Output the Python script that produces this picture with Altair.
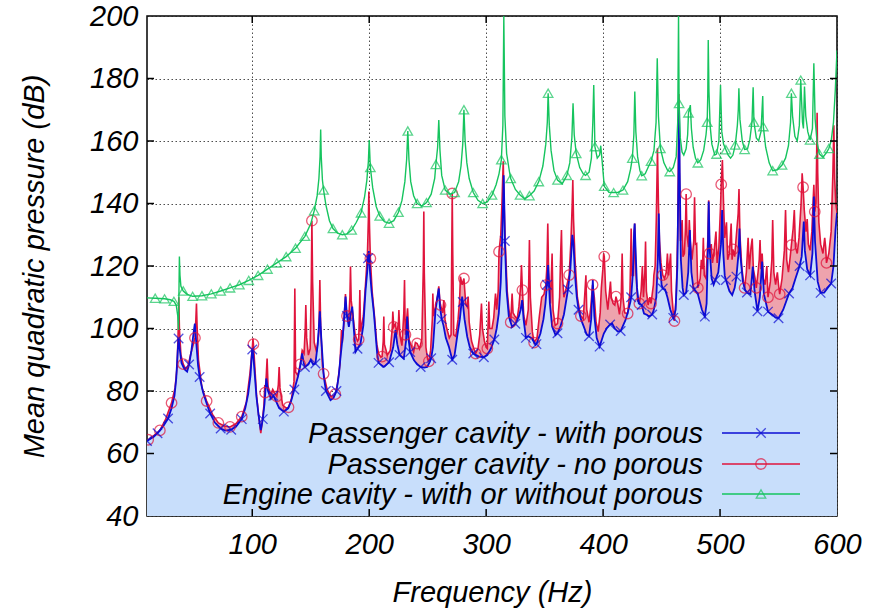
import altair as alt
import pandas as pd

# ---------------------------------------------------------------------------
# Mean quadratic pressure (dB) versus frequency (Hz), three responses.
# Each list holds (frequency, level) vertices of one response curve.
# ---------------------------------------------------------------------------

ENGINE = [
    (10, 109.8), (17, 109.7), (25, 109.5), (30, 109.2), (33, 108.7), (35, 107.5),
    (36.3, 104), (36.9, 99.5), (37.4, 114), (37.7, 123), (38.2, 117), (39, 113.5),
    (41, 112), (44, 111), (49, 110.3), (57, 110.5), (65, 111.1), (73, 112), (81, 113),
    (89, 114), (97, 115.4), (105, 117), (113, 119), (121, 121), (129, 123), (137, 125.7),
    (145, 129.5), (150, 133.5), (153, 137.7), (155.5, 142.5), (157, 148), (158, 155),
    (158.5, 163.7), (159, 155), (160, 147.5), (161, 144.3), (163, 139.5), (166, 134.5),
    (169, 132), (173, 130.5), (177, 130), (181, 130.3), (185, 131.5), (189, 134),
    (193, 137), (196, 142), (198, 147.5), (199.3, 153.5), (200, 160.3), (200.7, 154),
    (201, 151.5), (203, 145), (206, 139), (209, 136), (213, 134.2), (217, 133.7),
    (221, 134.5), (225, 137.2), (228, 141), (230.5, 147), (232, 154), (233, 163.2),
    (234, 154), (235.5, 147), (238, 142.5), (241, 140), (245, 139.2), (249, 140.3),
    (253, 143), (256, 148), (257, 152.5), (258.5, 158), (259.5, 166.7), (260.5, 157),
    (262, 149), (265, 144.3), (269, 143), (273, 143.5), (276.5, 147), (278.5, 152),
    (280, 159), (281, 170), (282, 160), (283.5, 153), (285.5, 148), (289, 143.5),
    (293, 141), (297, 140), (301, 140.5), (305, 142.7), (308.5, 146), (311, 149.5),
    (313, 154), (314.3, 165), (315.1, 200), (316, 168), (317.5, 156), (320, 150),
    (321, 148), (325, 144.5), (329, 142.7), (333, 141.5), (337, 142.5), (341, 144),
    (345, 147), (348.5, 152), (351, 159), (352.3, 166), (353, 175.3), (354, 165),
    (355.5, 157), (358, 150.5), (361, 147.5), (365, 146.3), (369, 149), (371.5, 153),
    (373.3, 161), (374.3, 172.1), (375.3, 162), (377, 156), (380, 151.5), (383, 149.5),
    (385, 149), (388, 150), (390, 154.5), (391.2, 166), (392, 177.9), (393, 158.2),
    (395, 154.5), (397, 155.5), (398, 158.5), (399.3, 153), (401, 145.5), (405, 143.6),
    (409, 143.5), (413, 143.6), (417, 144.3), (421, 147), (423.5, 151), (425, 154.5),
    (426.3, 162), (427.1, 175.8), (428, 163), (429.5, 155), (431.5, 150.5), (433, 148.9),
    (436, 149.5), (439, 152), (441, 153.5), (443.5, 157), (445.3, 166), (446.3, 186.5),
    (447.3, 168), (449, 157.6), (452, 153), (455, 150.7), (457, 150.2), (460, 151.5),
    (462.5, 155), (463.8, 166), (464.5, 200), (465, 172), (466, 161), (467.5, 156.5),
    (469, 155.5), (471, 157.5), (472.3, 162), (473, 169), (474.6, 171.5), (475.5, 164),
    (477, 158), (479, 154.5), (481, 153), (483.5, 154), (486, 157), (488, 162),
    (489, 166), (489.5, 175), (489.9, 192.3), (490.5, 176), (491.5, 165), (493, 159),
    (495.5, 155.5), (497, 155.8), (499, 160), (500.4, 177.9), (501.5, 163), (503, 159),
    (505, 157.2), (507, 155.5), (509, 154.5), (511, 155.5), (513, 158.7), (514.8, 165),
    (515.6, 170), (516.1, 176.9), (517, 167), (519, 160), (521, 157.3), (523.5, 157.5),
    (525.5, 160.5), (527.3, 166), (528.3, 177.2), (529, 166), (531, 161), (533, 160),
    (535, 163), (536.5, 174.4), (537, 164.6), (539, 158), (542, 153), (545, 150.5),
    (549, 150.8), (553, 152.3), (556, 154.5), (558.5, 158.5), (560.3, 166), (561, 175.3),
    (562, 168), (564, 161.5), (566, 160), (567.8, 165), (569, 179.5), (570.5, 166),
    (571.3, 164), (572.2, 177.4), (573.3, 168), (575, 163), (577, 160.3), (579, 164),
    (580.2, 184.9), (581.3, 167), (583, 159.5), (585, 155.8), (588, 154.8), (591, 156.3),
    (593, 157.6), (595, 160), (597, 166), (598.5, 176), (600, 189),
]

WITH_POROUS = [
    (10, 64.0), (15, 65.2), (19, 66.5), (24, 68.8), (28, 71.2), (31, 74.5), (33.5, 78.5),
    (35, 84), (36.3, 93), (37, 96.8), (37.8, 94), (39.5, 89), (42, 87), (44.3, 86.2),
    (46, 88.5), (48, 93), (49.8, 98.5), (50.9, 101.6), (52, 96), (53.7, 88), (55, 84.5),
    (58, 79.5), (61, 76), (64, 72.8), (68, 69.9), (73, 68.0), (77, 67.3), (82, 67.6),
    (86, 68.5), (91, 71), (94, 74.5), (96.5, 79), (98.5, 85), (99.5, 91), (100, 93.3),
    (100.7, 92), (101.8, 87), (103.6, 78.1), (105.5, 72), (107.3, 67.5), (108.3, 69.5),
    (109, 71), (110.5, 76), (112, 84), (113.5, 80), (116, 77.5), (118, 78.5), (120, 77),
    (123, 74.5), (127, 73.4), (130.7, 74.4), (133, 76.5), (136, 80.5), (139, 84.5),
    (141, 88), (142.7, 92), (144, 89), (145, 87.7), (148, 88.5), (150, 90), (152, 88.5),
    (154, 88.8), (156, 95), (157.8, 105.5), (159, 97), (161.2, 84.5), (163, 80),
    (166.9, 77.1), (169.5, 77.8), (172, 80), (174, 85), (175.5, 91), (177.5, 98),
    (179.8, 110.2), (181, 104), (182.6, 100.5), (184.2, 104.5), (185.5, 107), (186.8, 100),
    (188.3, 92.5), (190, 93.5), (192.6, 95.2), (195, 101), (196.9, 112.3), (198.5, 119),
    (199, 122.5), (199.7, 124.8), (200.7, 118), (202, 112), (204, 105), (206.8, 92),
    (208, 89), (212.5, 87.7), (217, 89.2), (220.5, 94), (222.5, 99.5), (224, 95),
    (226, 91.5), (229.6, 90.4), (231.5, 96), (232.5, 103.8), (233.5, 97), (235, 92.5),
    (238.2, 89.9), (241, 88.5), (244, 87.7), (247, 87.5), (249.6, 87.7), (252, 89.5),
    (253, 90.5), (254.5, 94), (256.7, 105.9), (258.3, 110), (259.5, 112.8), (260.5, 107),
    (262, 103), (263.5, 101), (265.5, 97), (268.1, 94.2), (271, 90), (273, 91.5),
    (275.2, 97.4), (277.5, 103), (279.5, 110.2), (280, 108.5), (281.5, 103), (283.8, 97.4),
    (286, 94), (289, 92), (293.8, 91), (298, 90.8), (301, 91.5), (304, 93.5), (307, 96.5),
    (309, 100), (310.8, 104.8), (312.5, 115), (313.7, 129.4), (314.5, 140), (315, 149),
    (315.6, 138), (316, 128), (317.5, 112), (319.4, 103.8), (322.2, 100.5), (325, 101.5),
    (327.9, 103.8), (329.5, 106), (330.8, 109.1), (332, 103), (334, 97), (336, 97.5),
    (339.3, 96.8), (342.2, 94.7), (343, 95), (346.4, 98.4), (349, 103), (350.7, 108),
    (352, 114), (353, 120.3), (354.5, 108), (356.4, 100.6), (359.3, 97.9), (361, 98.5),
    (363.5, 100.6), (366.5, 104.5), (369.2, 110.7), (370, 112.5), (372, 119), (373.7, 130),
    (374.7, 127), (376, 117), (377.5, 110), (379, 106), (381, 103), (383.5, 100.6),
    (386, 98), (388, 97.5), (389.8, 103), (391.2, 115.5), (392.5, 104), (394.5, 97),
    (397, 94.2), (400.6, 98.4), (403, 100), (406, 101.3), (407.7, 101.6), (410, 100),
    (412.5, 99), (415, 99.2), (419.1, 102.7), (421, 105), (423.4, 108.6), (424, 110),
    (425.5, 118), (426.5, 131), (427, 133.6), (427.7, 126), (429, 113), (430.5, 108),
    (433, 107.5), (435, 104.8), (437.7, 104.3), (439.1, 103.8), (442, 104.5),
    (443.3, 105.9), (445.5, 110), (446.8, 122), (447.6, 136.8), (448.5, 122), (450, 114),
    (451, 112.8), (453, 112.5), (455, 110), (457.5, 106), (460, 103.4), (462, 106),
    (463.5, 120), (464.5, 150), (465, 170), (465.5, 150), (466.5, 122), (468, 113),
    (469, 110.7), (471, 111.5), (472.8, 118), (474.2, 131.5), (475.5, 118), (477, 113.5),
    (478, 112.5), (481, 111), (484.5, 106), (487, 103.8), (488.5, 108), (489.6, 125),
    (490.3, 140.6), (491.2, 125), (492.8, 116), (494.5, 114), (496, 115.5), (498.5, 118),
    (500.8, 127), (501.8, 137.9), (502.8, 124), (504, 117), (505, 115.5), (508, 112),
    (510.4, 110.7), (512.5, 113), (514, 116.6), (515.8, 124), (516.6, 132), (517.5, 123),
    (519.5, 115), (521.5, 112.3), (523, 111.5), (526, 111), (528, 119.8), (529.5, 112),
    (532, 105.5), (534, 110), (536, 121.4), (537.5, 111), (541, 105.4), (545, 104.3),
    (547.5, 103.5), (550, 103.3), (554, 106), (559, 111.2), (562, 113), (564.5, 116),
    (568, 120), (569.8, 123), (571.6, 134.2), (572.5, 125), (574.5, 119), (577, 117),
    (579, 124), (580.2, 142.2), (581.2, 128), (583.5, 115), (586, 111.4), (589, 111.5),
    (592, 113), (595, 114.4), (597, 120), (598.7, 131.5), (600, 137),
]

NO_POROUS = [
    (10, 64.0), (11, 64.4), (16, 65.8), (21, 67.4), (26, 71), (31, 76.2), (34, 81),
    (35.8, 88), (36.8, 101), (37.2, 110), (37.7, 100), (39, 91.5), (41, 88.6), (43, 87),
    (45, 87.8), (47.5, 92), (50, 95.5), (51, 97), (51.8, 103), (52.3, 108), (52.8, 101),
    (54, 90), (57, 81), (61, 76.8), (66, 72.5), (71, 69.8), (76, 68.8), (81, 68.5),
    (86, 69.5), (91, 71.8), (95, 76.5), (98, 85.5), (100, 93.5), (100.6, 96.8), (101, 95),
    (102, 89), (103.6, 79), (105.5, 72), (107.3, 66.5), (108.5, 70), (110, 75.5),
    (110.7, 81.9), (111, 79.5), (112, 85), (112.7, 90.4), (113.5, 81.5), (115.5, 78.5),
    (117.5, 80.5), (119, 79.5), (121, 78.3), (122.3, 82), (123, 87.7), (123.7, 81),
    (126, 75.5), (129, 74.5), (131, 74.8), (133.5, 77.5), (135.7, 83), (136.4, 112.8),
    (137.1, 86), (139, 85), (141, 88.5), (142.7, 93), (144.3, 92), (145.3, 100),
    (145.8, 107.5), (146.5, 97), (148, 91.5), (149.5, 93.5), (150.5, 115), (151, 134.5),
    (151.6, 115), (153, 95.5), (155, 92.5), (157, 99), (157.8, 115.5), (158.5, 101),
    (160, 88), (161, 85.5), (164, 80.5), (167, 78.3), (169.5, 78.5), (171, 79),
    (173, 82.5), (175, 88.5), (176.3, 99.5), (177, 95.5), (178.5, 102), (179.7, 111),
    (180.3, 106), (181, 104), (182.5, 103), (183.5, 110), (184, 119.8), (184.6, 109),
    (186, 104.5), (188, 98), (190, 96), (191, 96.5), (191.6, 104), (192, 112.3),
    (192.6, 99), (195, 104), (197, 115), (198.5, 124), (199.3, 135), (199.7, 143.8),
    (200.3, 132), (201, 122.4), (202.5, 112), (204.5, 104), (206.5, 95), (208, 92),
    (210, 90.8), (211, 91), (212, 96), (212.5, 103.8), (213, 95), (215.5, 91.5), (218, 93),
    (219.7, 100), (220.2, 105.4), (221, 100.5), (222.5, 101.5), (223.5, 98), (225, 102),
    (225.4, 105.9), (226.2, 98), (228, 94.5), (229.6, 105), (230.2, 115.5), (230.6, 104),
    (231, 98), (232, 102.6), (232.8, 106.5), (234, 96.5), (236, 94.5), (238, 92.5),
    (239.5, 95.5), (241, 95.2), (243, 93.5), (245, 96.5), (246.3, 120), (246.7, 137.4),
    (247.1, 118), (248.5, 94), (250, 90), (251, 89.5), (252.5, 93), (254, 103),
    (254.4, 111.2), (255, 104), (256.7, 107), (258.5, 110.5), (259.5, 113.5),
    (260.5, 108.5), (261, 107.5), (262.8, 105), (263.8, 109.1), (264.8, 103), (266, 100.5),
    (268.5, 97), (270, 98), (270.6, 125), (271, 143.2), (271.4, 125), (272.3, 98),
    (274, 97.5), (276, 103), (277.3, 109), (278, 116.6), (279.5, 114), (281, 116),
    (282.5, 108), (283.8, 107), (284.6, 110.2), (285.5, 102), (287.5, 96), (289.5, 93.5),
    (291, 92), (293, 93.5), (294.5, 98), (296, 108), (296.8, 100), (298.5, 96), (300, 94),
    (301, 93.6), (302.3, 108.6), (303, 100), (305, 100), (306.5, 103.5), (308, 111.2),
    (309, 106), (310.3, 112), (311, 124.6), (312.5, 130), (313.5, 140), (314.6, 153.5),
    (315.3, 140), (316.5, 126), (318, 112), (319.5, 106), (321, 102), (322.2, 111.2),
    (323, 105), (324.5, 104), (326.5, 103), (328, 107), (329.6, 114), (330.2, 120.3),
    (331, 112.3), (332.2, 104), (334, 101), (336, 106), (337, 128.3), (337.8, 110),
    (339.5, 99), (341, 95.5), (343.5, 97), (345.5, 104), (347.5, 110), (349.5, 111),
    (351, 113.9), (352, 120), (352.7, 133.6), (353.4, 118), (355, 108), (356.4, 124),
    (357.2, 106), (359, 101), (361, 101.6), (362.8, 110), (363.8, 125), (364.4, 131.5),
    (365, 118), (366.5, 110), (368.5, 113), (371, 117.1), (372.5, 128), (373.6, 140),
    (374.1, 147.5), (374.7, 135), (376, 122), (378, 110), (379.8, 106), (381, 104),
    (383, 103), (384.5, 112), (385.3, 117), (386, 106), (388, 102), (389.5, 107),
    (391, 114), (392.5, 110), (394, 102), (395.8, 99), (397.5, 105), (398.5, 113),
    (399.8, 119), (400.5, 124), (401, 123), (402.2, 112), (404, 106), (406.3, 115),
    (407, 110), (408.6, 108), (410, 107.5), (411, 110.2), (412.5, 108), (414, 104.5),
    (415.5, 110), (416.3, 124), (417, 110), (418.5, 105), (421, 104.8), (423, 112),
    (424, 132), (424.8, 117), (426, 117), (427, 133.6), (428, 118), (429.5, 109),
    (431, 108), (432.5, 112), (433.6, 120), (434.5, 110), (435.7, 118), (436.3, 127.8),
    (437, 112), (438.5, 107.5), (440, 110), (441, 108), (443, 114), (443.4, 117),
    (444.5, 120), (445.5, 135), (446.5, 157.7), (447.3, 140), (448.2, 128), (449.5, 121),
    (451, 117.1), (452.5, 116), (454, 118), (455, 124), (456, 117), (457.7, 124),
    (458.5, 112), (460, 105), (461, 102.4), (462.5, 110), (463.8, 130), (464.5, 160),
    (464.8, 175), (465.3, 150), (466.2, 128), (467.6, 134.7), (468.3, 123), (469.5, 124),
    (470.4, 132), (471, 143), (471.7, 130), (473, 126), (473.7, 134.7), (474.5, 128),
    (476, 122), (477.5, 128), (478.2, 142), (479, 127), (480, 127.2), (480.6, 118),
    (481, 113), (483, 116), (484, 122), (485, 119), (485.7, 129), (486.5, 117), (488, 116),
    (489.5, 128), (490.3, 141), (491, 124), (492.5, 127), (493.5, 121), (495, 125),
    (496.5, 131), (497.5, 121), (499, 126), (500.5, 140), (501, 146.1), (502, 153.9),
    (503, 140), (504, 129), (505.5, 134), (506.5, 122), (508, 124), (509.5, 133.6),
    (510.3, 122), (511, 125.3), (512.5, 123), (514, 130), (515.5, 136.8), (516.2, 144.6),
    (517, 130), (518.5, 120), (520, 115), (521, 113), (522.5, 118), (524, 129), (525, 119),
    (526.5, 126), (527.5, 128.8), (528.5, 119), (530, 116), (531, 113), (532.5, 118),
    (533.5, 122), (534.2, 128.3), (535, 119), (536, 124), (537, 116), (538.5, 114),
    (540, 120), (541, 110), (543, 115), (544.3, 122), (545, 134.7), (546, 118),
    (547.5, 114), (549, 118), (550, 114), (551, 111), (553, 116), (555, 125),
    (556, 137.9), (557, 122), (558.5, 118), (560, 123), (561, 126.7), (562.5, 132),
    (563.5, 137.9), (564.5, 126), (566, 124), (567.5, 129), (569.3, 140), (570.2, 149.7),
    (571, 145.2), (572, 138), (573.5, 131), (574.5, 135), (575.5, 127), (577, 125),
    (578.5, 131), (579.5, 140), (580.2, 146), (581, 137.4), (582, 140), (582.6, 155),
    (583, 169), (583.5, 150), (584.5, 134), (586, 127), (588, 124), (589.5, 129),
    (590.3, 126), (591, 121), (593, 124), (595, 131), (596.5, 150), (597.3, 165),
    (598, 148), (599, 140), (600, 137),
]

# frequencies at which each curve carries a point symbol
ENGINE_SYMBOL_HZ = [17, 25, 33, 41, 49, 57, 65, 73, 81, 89, 97, 105, 113, 121, 129, 137,
                    145, 153, 161, 169, 177, 185, 193, 201, 209, 217, 225, 233, 241, 249,
                    257, 265, 273, 281, 289, 297, 305, 313, 321, 329, 337, 345, 353, 361,
                    369, 377, 385, 393, 401, 409, 417, 425, 433, 441, 449, 457, 465, 473,
                    481, 489, 497, 505, 513, 521, 529, 537, 545, 553, 561, 569, 577, 585,
                    593]
WITH_POROUS_SYMBOL_HZ = [10, 19, 28, 37, 46, 55, 64, 73, 82, 91, 100, 109, 118, 127, 136,
                         145, 154, 163, 172, 181, 190, 199, 208, 217, 226, 235, 244, 253,
                         262, 271, 280, 289, 298, 307, 316, 325, 334, 343, 352, 361, 370,
                         379, 388, 397, 406, 415, 424, 433, 442, 451, 460, 469, 478, 487,
                         496, 505, 514, 523, 532, 541, 550, 559, 568, 577, 586, 595]
NO_POROUS_SYMBOL_HZ = [11, 21, 31, 41, 51, 61, 71, 81, 91, 101, 111, 121, 131, 141, 151,
                       161, 171, 181, 191, 201, 211, 221, 231, 241, 251, 261, 271, 281,
                       291, 301, 311, 321, 331, 341, 351, 361, 371, 381, 391, 401, 411,
                       421, 431, 441, 451, 461, 471, 481, 491, 501, 511, 521, 531, 541,
                       551, 561, 571, 581, 591]

X_TICKS = [100, 200, 300, 400, 500, 600]
Y_TICKS = [40, 60, 80, 100, 120, 140, 160, 180, 200]
LEGEND_LABELS = [
    "Passenger cavity - with porous",
    "Passenger cavity - no porous",
    "Engine cavity - with or without porous",
]

BLUE = "#0c0cd4"
RED = "#e0143c"
GREEN = "#16c45e"
BLUE_FILL = "#c8defb"
PINK_FILL = "#eea3ad"
FONT = "Liberation Sans"

W, H = 690, 500


def table(points):
    return pd.DataFrame(points, columns=["hz", "db"])


def symbols(df, hz_list):
    return df[df["hz"].isin(hz_list)]


engine = table(ENGINE)
porous = table(WITH_POROUS)
bare = table(NO_POROUS)

x_enc = alt.X(
    "hz:Q",
    scale=alt.Scale(domain=[10, 600], nice=False, zero=False),
    axis=alt.Axis(
        values=X_TICKS, title="Frequency (Hz)", titleX=345, titleY=76,
        titleBaseline="middle", titleAlign="center", labelPadding=14,
        labelFlush=False, labelOverlap=False,
    ),
)
y_enc = alt.Y(
    "db:Q",
    scale=alt.Scale(domain=[40, 200], nice=False, zero=False),
    axis=alt.Axis(
        values=Y_TICKS, title="Mean quadratic pressure (dB)", titleX=-113, titleY=250,
        titleAngle=270, titleBaseline="middle", titleAlign="center", labelPadding=9,
        labelFlush=False, labelOverlap=False,
    ),
)

# filled regions: pink between the two passenger curves, light blue under the porous one
pink_area = alt.Chart(bare).mark_area(color=PINK_FILL, opacity=1, clip=True).encode(
    x=x_enc, y=y_enc, y2=alt.value(H)
)
blue_area = alt.Chart(porous).mark_area(color=BLUE_FILL, opacity=1, clip=True).encode(
    x=x_enc, y=y_enc, y2=alt.value(H)
)

red_line = alt.Chart(bare).mark_line(color=RED, strokeWidth=1.6, clip=True).encode(x=x_enc, y=y_enc)
blue_line = alt.Chart(porous).mark_line(color=BLUE, strokeWidth=1.8, clip=True).encode(x=x_enc, y=y_enc)
green_line = alt.Chart(engine).mark_line(color=GREEN, strokeWidth=1.4, clip=True).encode(x=x_enc, y=y_enc)

X_SHAPE = "M-1,-1L1,1M-1,1L1,-1"

red_pts = alt.Chart(symbols(bare, NO_POROUS_SYMBOL_HZ)).mark_point(
    shape="circle", filled=False, color=RED, size=110, strokeWidth=1.3, clip=True
).encode(x=x_enc, y=y_enc)
blue_pts = alt.Chart(symbols(porous, WITH_POROUS_SYMBOL_HZ)).mark_point(
    shape=X_SHAPE, filled=False, color=BLUE, size=90, strokeWidth=1.3, clip=True
).encode(x=x_enc, y=y_enc)
green_pts = alt.Chart(symbols(engine, ENGINE_SYMBOL_HZ)).mark_point(
    shape="triangle-up", filled=False, color=GREEN, size=90, strokeWidth=1.3, clip=True
).encode(x=x_enc, y=y_enc)

# inward tick marks on all four sides of the frame
xt = pd.DataFrame({"hz": X_TICKS[:-1]})
yt = pd.DataFrame({"db": Y_TICKS[1:-1]})
tick_style = dict(color="black", strokeWidth=1.5)
ticks = [
    alt.Chart(xt).mark_rule(**tick_style).encode(x=x_enc, y=alt.value(0), y2=alt.value(7)),
    alt.Chart(xt).mark_rule(**tick_style).encode(x=x_enc, y=alt.value(H), y2=alt.value(H - 7)),
    alt.Chart(yt).mark_rule(**tick_style).encode(y=y_enc, x=alt.value(0), x2=alt.value(7)),
    alt.Chart(yt).mark_rule(**tick_style).encode(y=y_enc, x=alt.value(W), x2=alt.value(W - 7)),
]

# key, drawn inside the plot: right-aligned label, then a line sample with its symbol
one = pd.DataFrame({"k": [0]})
key_rows = [
    (LEGEND_LABELS[0], BLUE, X_SHAPE, 90, 417),
    (LEGEND_LABELS[1], RED, "circle", 110, 448),
    (LEGEND_LABELS[2], GREEN, "triangle-up", 90, 478),
]
key_layers = []
for label, col, shape, size, ky in key_rows:
    key_layers.append(
        alt.Chart(one).mark_text(
            text=label, align="right", baseline="middle", font=FONT, fontStyle="italic",
            fontSize=29, color="black",
        ).encode(x=alt.value(556), y=alt.value(ky + 1))
    )
    key_layers.append(
        alt.Chart(one).mark_rule(color=col, strokeWidth=1.6).encode(
            x=alt.value(575), x2=alt.value(653), y=alt.value(ky)
        )
    )
    key_layers.append(
        alt.Chart(one).mark_point(
            shape=shape, filled=False, color=col, size=size, strokeWidth=1.3
        ).encode(x=alt.value(614), y=alt.value(ky))
    )

chart = alt.layer(
    pink_area, blue_area, red_line, blue_line, red_pts, blue_pts, green_line, green_pts,
    *ticks, *key_layers,
).properties(
    width=W, height=H,
    autosize=alt.AutoSizeParams(type="none"),
    padding={"left": 147, "top": 16, "right": 33, "bottom": 93},
).configure_view(
    stroke="black", strokeWidth=1.5
).configure_axis(
    ticks=False, domain=False, grid=True, gridColor="#222", gridDash=[1.5, 2.5],
    gridWidth=1, gridOpacity=0.8,
    labelFont=FONT, labelFontStyle="italic", labelFontSize=29, labelColor="black",
    titleFont=FONT, titleFontStyle="italic", titleFontWeight="normal", titleFontSize=29,
    titleColor="black",
)

chart.save("out.html", embed_options={"renderer": "svg", "actions": False})
